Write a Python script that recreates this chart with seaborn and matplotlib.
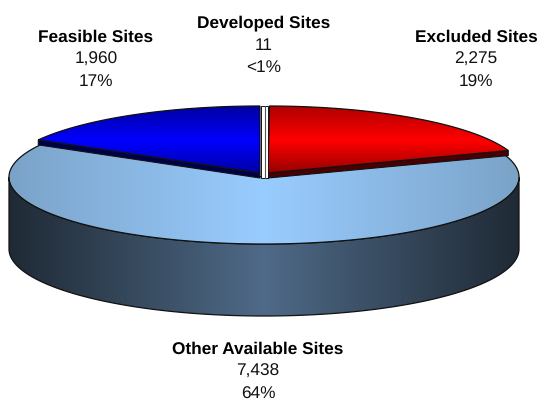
import numpy as np
import seaborn as sns
import matplotlib
matplotlib.use('Agg')
import matplotlib.pyplot as plt
from matplotlib.patches import Polygon

sns.set_theme(style='white')
plt.rcParams['font.family'] = ['Liberation Sans', 'DejaVu Sans']
plt.rcParams['text.hinting'] = 'none'

## Chart values
categories = ['Developed Sites', 'Excluded Sites', 'Other Available Sites', 'Feasible Sites']
values = [11, 2275, 7438, 1960]
percents = ['<1%', '19%', '64%', '17%']

## Pie geometry, pixels
cx, cy = 264, 177
rx, ry = 255, 67
depth = 72
lift = 4
wall_h = 5
shift = 4   # small slices are pulled apart sideways, leaves the white band
edge = '#111111'

def ellipse(a0, a1, x0=cx, y0=cy, n=200):
    t = np.radians(np.linspace(a0, a1, n))
    return np.column_stack([x0 + rx*np.sin(t), y0 - ry*np.cos(t)])

def sector_poly(a0, a1, x0=cx, y0=cy):
    return np.vstack([[x0, y0], ellipse(a0, a1, x0, y0)])

def gradient(ax, colors, pts, extent, horizontal=True, z=1):
    cmap = matplotlib.colors.LinearSegmentedColormap.from_list('g', sns.blend_palette(colors, 256))
    grad = np.linspace(0, 1, 256)
    grad = grad[None, :] if horizontal else grad[:, None]
    im = ax.imshow(grad, cmap=cmap, extent=extent, aspect='auto', zorder=z, interpolation='bilinear')
    clip = Polygon(pts, closed=True, fc='none', ec='none', zorder=z)
    ax.add_patch(clip)
    im.set_clip_path(clip)
    ax.add_patch(Polygon(pts, closed=True, fc='none', ec=edge, lw=0.9, zorder=z + 0.5))

fig = plt.figure(figsize=(5.42, 4.01), dpi=100)
ax = fig.add_axes([0, 0, 1, 1])

total = sum(values)
sweep = [v/total*360 for v in values]
a_red0 = sweep[0]
a_red1 = a_red0 + sweep[1]
a_oth1 = a_red1 + sweep[2]

## big slice side wall
front = ellipse(90, 270)
wall = np.vstack([front, (front + [0, depth])[::-1]])
gradient(ax, ['#1F2A35', '#4F6A88', '#1F2A35'], wall, [cx-rx, cx+rx, cy+ry+depth, cy-10], z=1)

## big slice top
gradient(ax, ['#7BA3C8', '#99CCFF', '#7BA3C8'], sector_poly(a_red1, a_oth1), [cx-rx, cx+rx, cy+ry, cy-ry], z=2)

## small slices sit a little higher, with a short dark wall under the straight edge
y0 = cy - lift
for a0, a1, x0, tip, dark, cols in [(a_red0, a_red1, cx + shift, a_red1, '#4A0000', ['#B00000', '#FF0000', '#900000']),
                                    (a_oth1, 360, cx - shift, a_oth1, '#00004A', ['#0000A0', '#0000FF', '#0000A0'])]:
    t = np.radians(tip)
    tip_pt = [x0 + rx*np.sin(t), y0 - ry*np.cos(t)]
    side = np.array([[x0, y0], tip_pt, [tip_pt[0], tip_pt[1] + wall_h], [x0, y0 + wall_h]])
    ax.add_patch(Polygon(side, closed=True, fc=dark, ec=edge, lw=0.8, zorder=3))
    gradient(ax, cols, sector_poly(a0, a1, x0, y0), [cx-rx, cx+rx, y0 + 2, y0 - ry], horizontal=False, z=4)

## developed slice is far too thin to see, shown as a white band with its edge in the middle
band_l, band_r = cx - shift + 0.5, cx + shift - 0.5
band = [[band_l, y0 - ry], [band_r, y0 - ry], [band_r, cy + 1], [band_l, cy + 1]]
ax.add_patch(Polygon(band, closed=True, fc='white', ec=edge, lw=0.7, zorder=5))
mid = cx + rx*np.sin(np.radians(sweep[0]/2))
ax.plot([mid, mid], [y0 - ry, cy + 1], color='#555555', lw=0.8, zorder=6)

## labels
label_pos = [(264, 23), (476, 37), (258, 349), (96, 37)]
for name, val, pct, (x, y) in zip(categories, values, percents, label_pos):
    ax.text(x, y, name, ha='center', va='center', fontsize=12.45, fontweight='bold', color='black')
    ax.text(x, y + 22.5, f'{val:,}', ha='center', va='center', fontsize=12.45, color='#111111')
    ax.text(x, y + 45, pct, ha='center', va='center', fontsize=12.45, color='#111111')

ax.set_xlim(0, 542)
ax.set_ylim(401, 0)
ax.axis('off')
fig.savefig('out.png', dpi=100)
